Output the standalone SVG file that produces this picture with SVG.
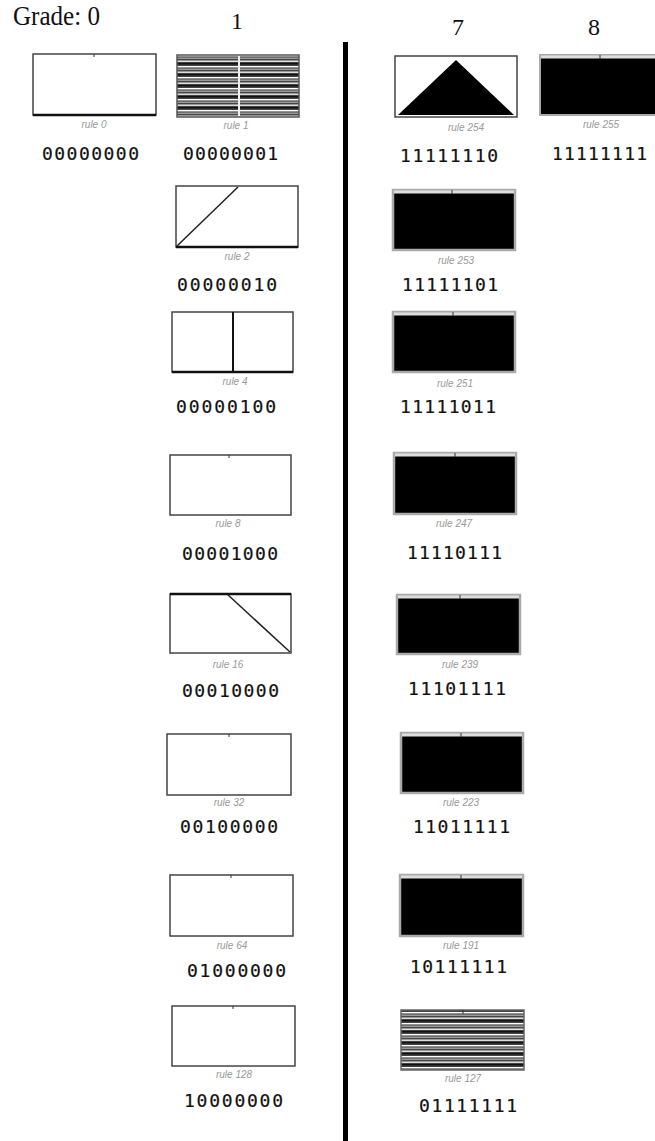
<svg xmlns="http://www.w3.org/2000/svg" width="655" height="1141" viewBox="0 0 655 1141">
<style>
.hdr{font-family:"Liberation Serif",serif;font-size:24px;fill:#111}
.bin{font-family:"DejaVu Sans Mono","Liberation Mono",monospace;font-size:18px;fill:#111;stroke:#111;stroke-width:0.2}
.lbl{font-family:"Liberation Sans",sans-serif;font-size:10px;font-style:italic;fill:#999;text-anchor:middle}
.wbox{fill:#fff;stroke:#444;stroke-width:1.5}
.bbox{fill:#000;stroke:#aaa;stroke-width:2.5}
.thick{stroke:#111;stroke-width:2.5}
.tick{stroke:#333;stroke-width:1}
.wtop{stroke:#ddd;stroke-width:3}
</style>
<defs>
<pattern id="stripes" patternUnits="userSpaceOnUse" x="0" y="0" width="10" height="11">
<rect width="10" height="11" fill="#444"/>
<rect y="0" width="10" height="1.4" fill="#fff"/>
<rect y="2.5" width="10" height="1.5" fill="#999"/>
<rect y="5.5" width="10" height="1.4" fill="#eee"/>
<rect y="8" width="10" height="1.5" fill="#111"/>
</pattern>
</defs>
<rect width="655" height="1141" fill="#fff"/>

<g id="headers">
<text class="hdr" x="13" y="25" style="font-size:27px" textLength="87" lengthAdjust="spacingAndGlyphs">Grade: 0</text>
<text class="hdr" x="231" y="29">1</text>
<text class="hdr" x="452" y="35">7</text>
<text class="hdr" x="588" y="35">8</text>
</g>

<g id="divider">
<rect x="343" y="42" width="5" height="1099" fill="#000"/>
</g>

<g id="connectors"></g>

<g id="rule0">
<rect class="wbox" x="33" y="54" width="123" height="61"/>
<line class="thick" x1="33" y1="115" x2="156" y2="115"/>
<line class="tick" x1="94" y1="54" x2="94" y2="57"/>
<text class="lbl" x="94" y="128">rule 0</text>
<text class="bin" x="42" y="160" textLength="97">00000000</text>
</g>

<g id="rule1">
<rect x="177" y="55" width="122" height="62" fill="url(#stripes)" stroke="#555" stroke-width="1.5"/>
<line x1="239" y1="56" x2="239" y2="116" stroke="#eee" stroke-width="2"/>
<text class="lbl" x="236" y="129">rule 1</text>
<text class="bin" x="183" y="160" textLength="95">00000001</text>
</g>

<g id="rule254">
<rect class="wbox" x="395" y="56" width="122" height="61"/>
<polygon points="398,115 456,60 514,115" fill="#000"/>
<text class="lbl" x="466" y="131">rule 254</text>
<text class="bin" x="400" y="162" textLength="98">11111110</text>
</g>

<g id="rule255">
<rect x="540" y="55" width="120" height="60" fill="#000" stroke="#aaa" stroke-width="2"/>
<line class="wtop" x1="541" y1="57" x2="655" y2="57"/>
<line class="tick" x1="600" y1="55" x2="600" y2="59"/>
<text class="lbl" x="601" y="128">rule 255</text>
<text class="bin" x="552" y="160" textLength="95">11111111</text>
</g>

<g id="rule2">
<rect class="wbox" x="176" y="186" width="122" height="61"/>
<line class="thick" x1="176" y1="247" x2="298" y2="247"/>
<line x1="177" y1="246" x2="238" y2="187" stroke="#222" stroke-width="1.5"/>
<text class="lbl" x="237" y="260">rule 2</text>
<text class="bin" x="177" y="291" textLength="100">00000010</text>
</g>

<g id="rule4">
<rect class="wbox" x="172" y="312" width="121" height="60"/>
<line class="thick" x1="172" y1="372" x2="293" y2="372"/>
<line x1="233" y1="312" x2="233" y2="372" stroke="#111" stroke-width="2"/>
<text class="lbl" x="235" y="385">rule 4</text>
<text class="bin" x="176" y="413" textLength="100">00000100</text>
</g>

<g id="rule8">
<rect class="wbox" x="170" y="455" width="121" height="60"/>
<line class="tick" x1="229" y1="455" x2="229" y2="458"/>
<text class="lbl" x="228" y="527">rule 8</text>
<text class="bin" x="182" y="560" textLength="96">00001000</text>
</g>

<g id="rule16">
<rect class="wbox" x="170" y="594" width="121" height="59"/>
<line class="thick" x1="170" y1="594" x2="291" y2="594"/>
<line x1="227" y1="594" x2="290" y2="652" stroke="#222" stroke-width="1.5"/>
<text class="lbl" x="228" y="668">rule 16</text>
<text class="bin" x="182" y="697" textLength="97">00010000</text>
</g>

<g id="rule32">
<rect class="wbox" x="167" y="734" width="124" height="61"/>
<line class="tick" x1="229" y1="734" x2="229" y2="737"/>
<text class="lbl" x="229" y="806">rule 32</text>
<text class="bin" x="180" y="833" textLength="98">00100000</text>
</g>

<g id="rule64">
<rect class="wbox" x="170" y="875" width="123" height="61"/>
<line class="tick" x1="231" y1="875" x2="231" y2="878"/>
<text class="lbl" x="232" y="949">rule 64</text>
<text class="bin" x="187" y="977" textLength="99">01000000</text>
</g>

<g id="rule128">
<rect class="wbox" x="172" y="1006" width="123" height="60" stroke="#222" stroke-width="2"/>
<line class="tick" x1="233" y1="1006" x2="233" y2="1009"/>
<text class="lbl" x="234" y="1078">rule 128</text>
<text class="bin" x="184" y="1107" textLength="99">10000000</text>
</g>

<g id="rule253">
<rect class="bbox" x="393" y="190" width="122" height="60"/>
<line class="wtop" x1="394" y1="192" x2="514" y2="192"/>
<line class="tick" x1="452" y1="190" x2="452" y2="194"/>
<text class="lbl" x="456" y="264">rule 253</text>
<text class="bin" x="402" y="291" textLength="96">11111101</text>
</g>

<g id="rule251">
<rect class="bbox" x="393" y="312" width="122" height="60"/>
<line class="wtop" x1="394" y1="314" x2="514" y2="314"/>
<line class="tick" x1="453" y1="312" x2="453" y2="316"/>
<text class="lbl" x="455" y="387">rule 251</text>
<text class="bin" x="400" y="413" textLength="96">11111011</text>
</g>

<g id="rule247">
<rect class="bbox" x="394" y="453" width="122" height="61"/>
<line class="wtop" x1="395" y1="455" x2="515" y2="455"/>
<line class="tick" x1="455" y1="453" x2="455" y2="457"/>
<text class="lbl" x="454" y="527">rule 247</text>
<text class="bin" x="407" y="559" textLength="95">11110111</text>
</g>

<g id="rule239">
<rect class="bbox" x="397" y="595" width="123" height="59"/>
<line class="wtop" x1="398" y1="597" x2="519" y2="597"/>
<line class="tick" x1="460" y1="595" x2="460" y2="599" stroke="#eee"/>
<text class="lbl" x="460" y="668">rule 239</text>
<text class="bin" x="408" y="695" textLength="98">11101111</text>
</g>

<g id="rule223">
<rect class="bbox" x="401" y="733" width="122" height="60"/>
<line class="wtop" x1="402" y1="735" x2="522" y2="735"/>
<line class="tick" x1="461" y1="733" x2="461" y2="737"/>
<text class="lbl" x="461" y="806">rule 223</text>
<text class="bin" x="413" y="833" textLength="97">11011111</text>
</g>

<g id="rule191">
<rect class="bbox" x="400" y="875" width="123" height="61"/>
<line class="wtop" x1="401" y1="877" x2="522" y2="877"/>
<line class="tick" x1="461" y1="875" x2="461" y2="879"/>
<text class="lbl" x="461" y="949">rule 191</text>
<text class="bin" x="410" y="973" textLength="97">10111111</text>
</g>

<g id="rule127">
<rect x="401" y="1010" width="123" height="60" fill="url(#stripes)" stroke="#666" stroke-width="1.5"/>
<line class="tick" x1="463" y1="1010" x2="463" y2="1014"/>
<text class="lbl" x="463" y="1082">rule 127</text>
<text class="bin" x="419" y="1112" textLength="98">01111111</text>
</g>
</svg>
